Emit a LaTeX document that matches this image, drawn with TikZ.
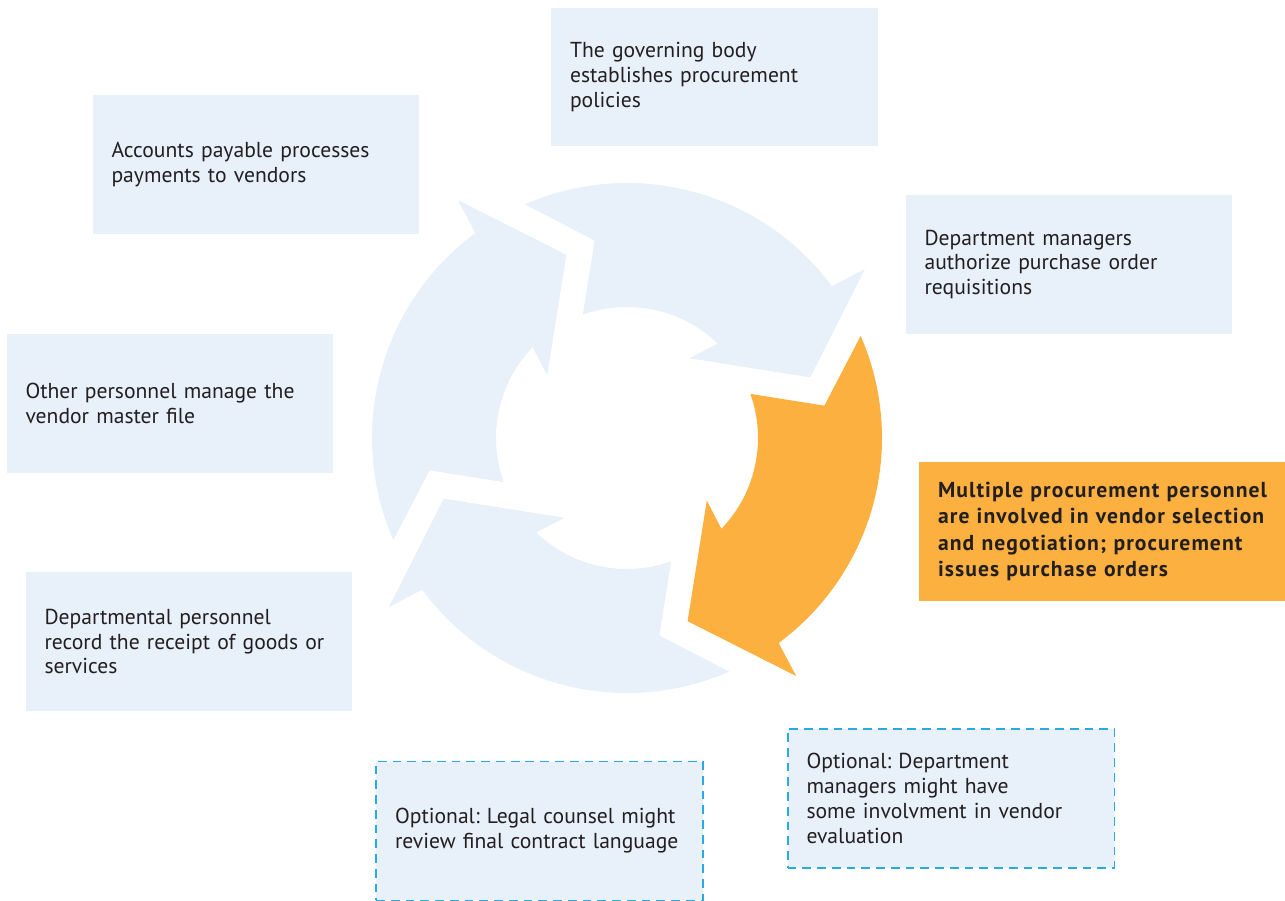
\documentclass[tikz,border=0pt]{standalone}
\usepackage{fontspec}
\setmainfont{PT Sans}
\newfontfamily\keyfont{PT Sans}[LetterSpace=5]
\usepackage{tikz}
\definecolor{cyclebg}{HTML}{E8F0FA}
\definecolor{cycleor}{HTML}{FBB040}
\definecolor{dashblue}{HTML}{29ABE2}
\definecolor{txtgray}{HTML}{231F20}
\frenchspacing

\begin{document}
\begin{tikzpicture}[x=0.02cm, y=-0.02cm,
  box/.style={fill=cyclebg, text=txtgray, align=left, text width=5.78cm, inner xsep=0.38cm, inner ysep=0pt, minimum height=2.78cm, font=\fontsize{12.3}{14.2}\selectfont},
  optbox/.style={box, draw=dashblue, line width=1.1pt, dash pattern=on 5pt off 3.4pt},
  keybox/.style={box, fill=cycleor, text width=6.9cm, font=\keyfont\bfseries\fontsize{12.3}{15.1}\selectfont}]
\useasboundingbox (0,0) rectangle (1285,901);
%固定画布大小(useasboundingbox),从(0,0)到(1285,901)
\begin{scope}[shift={(627,438)}, x=0.02cm, y=0.02cm]
\foreach \r/\c in {0/cyclebg, -90/cycleor, -180/cyclebg, 90/cyclebg}
  {\fill[\c, rotate=\r] (113.6:255) -- (99.3:200) -- (109.7:131) arc[start angle=109.7, end angle=46.1, radius=131] -- (51.9:101.4) -- (18.3:193) -- (35.4:292) -- (36.5:255) arc[start angle=36.5, end angle=113.6, radius=255] -- cycle;}
\end{scope}
%绘制(fill)环形的四个箭头,以(627,438)为圆心,每次旋转(rotate)90度,右侧一个为橙色(cycleor)
\node[box] (gov) at (714.5,77) {The governing body\\establishes procurement\\policies};
%上方文字框(gov)
\node[box] (payables) at (256,164.5) {Accounts payable processes\\payments to vendors};
%左上文字框(payables)
\node[box] (deptmgr) at (1069,264.5) {Department managers\\authorize purchase order\\requisitions};
%右上文字框(deptmgr)
\node[box] (vendorfile) at (170,403.5) {Other personnel manage the\\vendor master file};
%左侧文字框(vendorfile)
\node[keybox] (procure) at (1110.5,531.5) {Multiple procurement personnel\\are involved in vendor selection\\and negotiation; procurement\\issues purchase orders};
%右侧橙色文字框(procure),字体加粗(bfseries),右边超出画布
\node[box] (receipt) at (189,641.5) {Departmental personnel\\record the receipt of goods or\\services};
%左下文字框(receipt)
\node[optbox] (legal) at (539.5,831) {Optional: Legal counsel might\\review final contract language};
%下方虚线框(legal),虚线(dash pattern)
\node[optbox] (evaluation) at (951,798.5) {Optional: Department\\managers might have\\some involvment in vendor\\evaluation};
%右下虚线框(evaluation)
\end{tikzpicture}
\end{document}
